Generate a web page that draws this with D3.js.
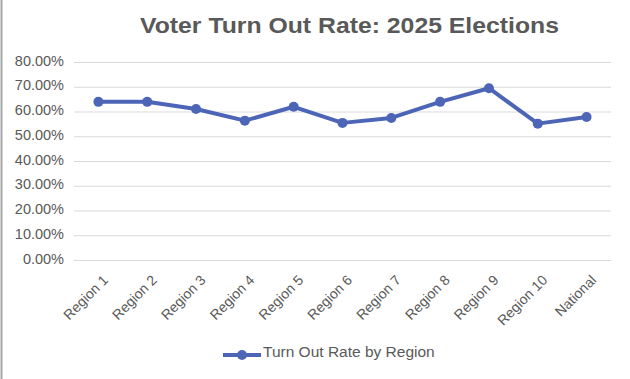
<!DOCTYPE html>
<html>
<head>
<meta charset="utf-8">
<script src="https://cdn.jsdelivr.net/npm/d3@7"></script>
<style>
  body { margin: 0; background: #fff; }
  svg { display: block; font-family: "Liberation Sans", Arial, sans-serif; }
</style>
</head>
<body>
<svg id="chart"></svg>
<script>
// chart data
const regions = ['Region 1', 'Region 2', 'Region 3', 'Region 4', 'Region 5', 'Region 6',
  'Region 7', 'Region 8', 'Region 9', 'Region 10', 'National'];
const turnout = [0.639, 0.639, 0.610, 0.563, 0.619, 0.554, 0.574, 0.639, 0.694, 0.551, 0.578];
const yTicks = [0, 0.1, 0.2, 0.3, 0.4, 0.5, 0.6, 0.7, 0.8];
const seriesName = 'Turn Out Rate by Region';
const title = 'Voter Turn Out Rate: 2025 Elections';

const width = 630, height = 379;
const margin = {top: 62, right: 19, bottom: 119, left: 74};
const innerW = width - margin.left - margin.right;
const innerH = height - margin.top - margin.bottom;
const lineColor = '#4d65b7';
const textColor = '#595959';

const svg = d3.select('#chart')
    .attr('width', width)
    .attr('height', height);

// left frame edge
svg.append('line')
    .attr('x1', 1.5).attr('x2', 1.5)
    .attr('y1', 0).attr('y2', height)
    .attr('stroke', '#a6a6a6')
    .attr('stroke-width', 2);

svg.append('text')
    .attr('x', 140)
    .attr('y', 33)
    .attr('font-size', 22)
    .attr('font-weight', 'bold')
    .attr('fill', textColor)
    .attr('textLength', 419)
    .attr('lengthAdjust', 'spacingAndGlyphs')
    .text(title);

const chart = svg.append('g')
    .attr('transform', `translate(${margin.left},${margin.top})`);

const xScale = d3.scalePoint()
    .domain(regions)
    .range([0, innerW])
    .padding(0.5);

const yScale = d3.scaleLinear()
    .domain([0, 0.8])
    .range([innerH, 0]);

// gridlines + y labels
const yAxis = d3.axisLeft(yScale)
    .tickValues(yTicks)
    .tickSize(-innerW)
    .tickPadding(10)
    .tickFormat(d3.format('.2%'));

const yAxisG = chart.append('g').call(yAxis);
yAxisG.select('.domain').remove();
yAxisG.selectAll('.tick line')
    .attr('stroke', '#d9d9d9')
    .attr('stroke-width', 1);
yAxisG.selectAll('.tick text')
    .attr('fill', textColor)
    .attr('font-size', 14.5)
    .attr('y', -1.5);

// x labels
const xAxis = d3.axisBottom(xScale).tickSize(0).tickPadding(0);
const xAxisG = chart.append('g')
    .attr('transform', `translate(0,${innerH})`)
    .call(xAxis);
xAxisG.select('.domain').remove();
xAxisG.selectAll('.tick text')
    .attr('fill', textColor)
    .attr('font-size', 14)
    .style('text-anchor', 'end')
    .attr('dy', 0)
    .attr('y', 0)
    .attr('transform', 'translate(10,21) rotate(-45)');

// series
chart.append('path')
    .datum(turnout)
    .attr('fill', 'none')
    .attr('stroke', lineColor)
    .attr('stroke-width', 4)
    .attr('stroke-linejoin', 'round')
    .attr('d', d3.line()
        .x((d, i) => xScale(regions[i]))
        .y(d => yScale(d)));

chart.selectAll('.point')
    .data(turnout)
    .join('circle')
    .attr('class', 'point')
    .attr('r', 5)
    .attr('cx', (d, i) => xScale(regions[i]))
    .attr('cy', d => yScale(d))
    .attr('fill', lineColor);

// legend
const legend = svg.append('g')
    .attr('transform', 'translate(223,355)');
legend.append('line')
    .attr('x1', 0).attr('x2', 38)
    .attr('stroke', lineColor)
    .attr('stroke-width', 4);
legend.append('circle')
    .attr('cx', 19).attr('r', 5)
    .attr('fill', lineColor);
legend.append('text')
    .attr('x', 40)
    .attr('y', 2)
    .attr('font-size', 15.5)
    .attr('fill', textColor)
    .text(seriesName);
</script>
</body>
</html>
